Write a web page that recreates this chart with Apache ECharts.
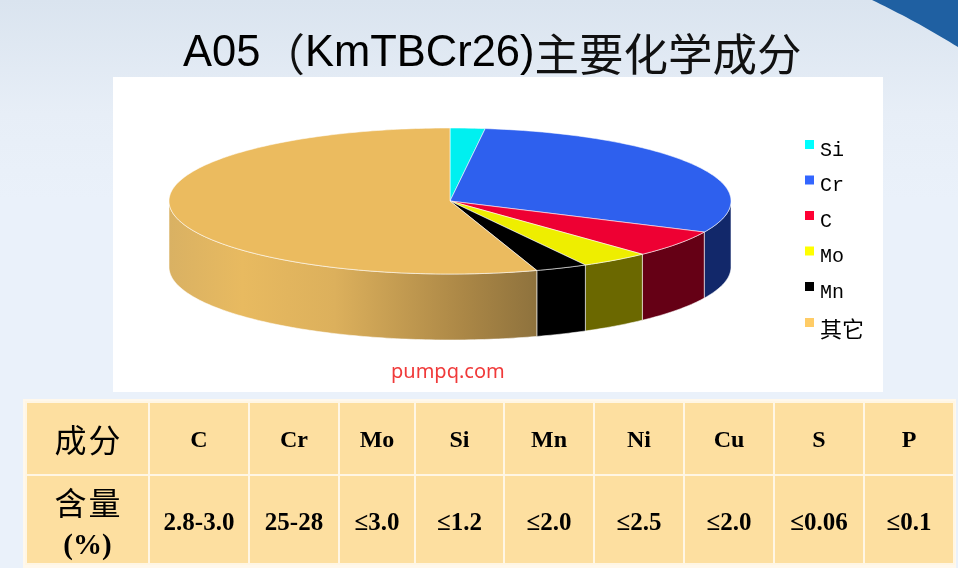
<!DOCTYPE html>
<html>

<head>
    <meta charset="utf-8">
    <title>A05 KmTBCr26</title>
    <script src="https://cdn.jsdelivr.net/npm/echarts@6/dist/echarts.min.js"></script>
    <style>
        html, body { margin: 0; padding: 0; }
    </style>
</head>

<body>
    <div id="main" style="width: 958px;height:568px;"></div>
    <script type="text/javascript">
        // pie data
        var names = ['Si', 'Cr', 'C', 'Mo', 'Mn', '其它'];
        var values = [2, 30, 6, 4, 3, 55];

        // composition table
        var tableHead = ['成分', 'C', 'Cr', 'Mo', 'Si', 'Mn', 'Ni', 'Cu', 'S', 'P'];
        var tableRow = ['含量', '2.8-3.0', '25-28', '≤3.0', '≤1.2', '≤2.0', '≤2.5', '≤2.0', '≤0.06', '≤0.1'];

        // styles
        var legendColors = ['#00ffff', '#3366ff', '#ff0033', '#ffff00', '#000000', '#ffcc66'];
        var topColors = ['#00f0f0', '#2e60ee', '#ee0033', '#eeee00', '#000000', '#ebbb5f'];
        var wallColors = ['#006a6a', '#12286a', '#650015', '#6b6800', '#000000', '#ebbb5f'];

        // table layout
        var colEdges = [26, 149, 249, 339, 415, 504, 594, 684, 774, 864, 954];
        var rowEdges = [402, 475, 564];

        // pie geometry
        var cx = 450, cy = 201, rx = 281, ry = 73, depth = 66;
        var total = values.reduce(function (a, b) { return a + b; }, 0);

        function ellipsePoint(deg, dy) {
            var t = deg * Math.PI / 180;
            return [cx + rx * Math.sin(t), cy - ry * Math.cos(t) + (dy || 0)];
        }

        // angle (clockwise from 12 o'clock) where slice i starts
        function startAngle(i) {
            var s = 0;
            for (var k = 0; k < i; k++) s += values[k];
            return s / total * 360;
        }

        function renderSlice(i) {
            return function (params, api) {
                var a0 = startAngle(i);
                var a1 = a0 + api.value(0) / total * 360;
                var children = [];

                // side wall, only the front half is visible
                var w0 = Math.max(a0, 90), w1 = Math.min(a1, 270);
                if (w1 > w0) {
                    var wall = [];
                    for (var a = w0; a < w1; a += 1) wall.push(ellipsePoint(a));
                    wall.push(ellipsePoint(w1));
                    wall.push(ellipsePoint(w1, depth));
                    for (var b = w1; b > w0; b -= 1) wall.push(ellipsePoint(b, depth));
                    wall.push(ellipsePoint(w0, depth));
                    var fill = wallColors[i];
                    if (names[i] === '其它') {
                        fill = new echarts.graphic.LinearGradient(0, 0, 1, 0, [
                            { offset: 0, color: '#d9b163' },
                            { offset: 0.2, color: '#e8ba60' },
                            { offset: 0.45, color: '#dcb05c' },
                            { offset: 0.8, color: '#ab8746' },
                            { offset: 1, color: '#8e723d' }
                        ]);
                    }
                    children.push({
                        type: 'polygon',
                        shape: { points: wall },
                        style: { fill: fill, stroke: 'rgba(255,255,255,0.55)', lineWidth: 1 }
                    });
                }

                // top face
                var top = [[cx, cy]];
                for (var c = a0; c < a1; c += 1) top.push(ellipsePoint(c));
                top.push(ellipsePoint(a1));
                children.push({
                    type: 'polygon',
                    shape: { points: top },
                    style: { fill: topColors[i], stroke: 'rgba(255,255,255,0.55)', lineWidth: 1 }
                });
                return { type: 'group', children: children };
            };
        }

        function renderCell(params, api) {
            var col = api.value(0), row = api.value(1);
            var x0 = colEdges[col], x1 = colEdges[col + 1];
            var y0 = rowEdges[row], y1 = rowEdges[row + 1];
            var text = (row === 0 ? tableHead : tableRow)[col];
            var first = col === 0;
            var children = [{
                type: 'rect',
                shape: { x: x0, y: y0, width: x1 - x0, height: y1 - y0 },
                style: { fill: '#fddfa0', stroke: '#fff6e4', lineWidth: 2 }
            }];
            var mx = (x0 + x1) / 2;
            if (first) {
                // the two characters are spaced apart in the source
                var chars = text.split('');
                var my = row === 0 ? 440 : 503;
                children.push({ type: 'text', style: { x: mx - 17, y: my, text: chars[0], font: '32px "Noto Sans CJK SC"', fill: '#000', align: 'center', verticalAlign: 'middle' } });
                children.push({ type: 'text', style: { x: mx + 17, y: my, text: chars[1], font: '32px "Noto Sans CJK SC"', fill: '#000', align: 'center', verticalAlign: 'middle' } });
                if (row === 1) {
                    children.push({ type: 'text', style: { x: mx, y: 547, text: '(%)', font: 'bold 29px "Liberation Serif"', fill: '#000', align: 'center', verticalAlign: 'middle' } });
                }
            } else {
                children.push({
                    type: 'text',
                    style: {
                        x: mx, y: row === 0 ? 441 : 524, text: text,
                        font: 'bold ' + (row === 0 ? 24 : 25) + 'px "Liberation Serif"',
                        fill: '#000', align: 'center', verticalAlign: 'middle'
                    }
                });
            }
            return { type: 'group', children: children };
        }

        var cells = [];
        tableHead.forEach(function (t, col) {
            cells.push([col, 0]);
            cells.push([col, 1]);
        });

        var series = names.map(function (name, i) {
            return {
                type: 'custom',
                name: name,
                coordinateSystem: 'none',
                itemStyle: { color: legendColors[i] },
                renderItem: renderSlice(i),
                data: [[values[i]]],
                silent: true,
                animation: false
            };
        });
        series.push({
            type: 'custom',
            name: 'table',
            coordinateSystem: 'none',
            renderItem: renderCell,
            data: cells,
            silent: true,
            animation: false
        });

        // corner band of the slide template
        var band = [[872, 0], [958, 0], [958, 47]];
        for (var s = 1; s < 20; s++) {
            var u = s / 20;
            band.push([958 - 86 * u, 47 - 47 * u - 1.5 * Math.sin(u * Math.PI)]);
        }

        var myChart = echarts.init(document.getElementById('main'));
        myChart.setOption({
            animation: false,
            title: {
                left: 183,
                top: 32,
                padding: 0,
                text: '{a|A05}{b|（}{a|KmTBCr26)}{b|主要化学成分}',
                textStyle: {
                    fontWeight: 'normal',
                    rich: {
                        a: { fontFamily: 'Liberation Sans', fontSize: 43.5, fontWeight: 'normal', color: '#000' },
                        b: { fontFamily: 'Noto Sans CJK SC', fontSize: 44.5, fontWeight: 'normal', color: '#111' }
                    }
                }
            },
            legend: {
                orient: 'vertical',
                left: 805,
                top: 140,
                padding: 0,
                itemWidth: 9,
                itemHeight: 9,
                itemGap: 15,
                icon: 'rect',
                selectedMode: false,
                data: names,
                textStyle: {
                    fontFamily: 'Liberation Mono',
                    fontSize: 20,
                    color: '#000',
                    padding: [12, 0, 0, 1],
                    rich: {
                        cjk: { fontFamily: 'Noto Sans CJK SC', fontSize: 22, color: '#000' }
                    }
                },
                formatter: function (name) {
                    return name === '其它' ? '{cjk|' + name + '}' : name;
                }
            },
            graphic: {
                elements: [
                    {
                        type: 'rect', z: -10,
                        shape: { x: 0, y: 0, width: 958, height: 568 },
                        style: {
                            fill: new echarts.graphic.LinearGradient(0, 0, 0, 1, [
                                { offset: 0, color: '#dae4ef' },
                                { offset: 0.2, color: '#e7eef7' },
                                { offset: 0.35, color: '#eaf1fa' },
                                { offset: 1, color: '#eaf1fa' }
                            ])
                        }
                    },
                    {
                        type: 'polygon', z: -9,
                        shape: { points: band },
                        style: { fill: '#1f60a2' }
                    },
                    {
                        type: 'rect', z: -8,
                        shape: { x: 113, y: 77, width: 770, height: 315 },
                        style: { fill: '#fff' }
                    },
                    {
                        type: 'rect', z: -8,
                        shape: { x: 23, y: 399, width: 933, height: 169 },
                        style: { fill: '#fff8ec' }
                    },
                    {
                        type: 'text', z: 5, x: 391, y: 362,
                        style: { text: 'pumpq.com', font: '20px "Noto Sans"', fill: '#f03a3a' }
                    }
                ]
            },
            series: series
        });
    </script>
</body>

</html>
